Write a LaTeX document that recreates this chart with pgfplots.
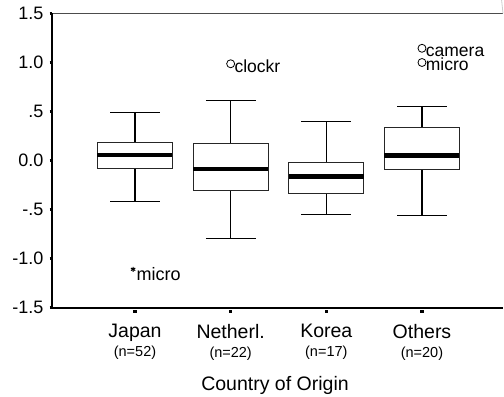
\documentclass[border=0pt]{standalone}
\usepackage{pgfplots}
\pgfplotsset{compat=1.18}
\usepgfplotslibrary{statistics}
\usepackage{fontspec}
\setmainfont{Liberation Sans}

\begin{document}
\begin{tikzpicture}[x=1bp,y=1bp]
\useasboundingbox (0,0) rectangle (504,396);
\begin{axis}[
  at={(52bp,88.5bp)}, anchor=south west,
  scale only axis, width=451bp, height=294bp,
  xmin=0.1324, xmax=4.847, ymin=-1.5, ymax=1.5,
  axis line style={draw=none},
  clip=false,
  tick align=outside,
  xtick pos=bottom, ytick pos=left,
  major tick length=2.5bp,
  ytick={-1.5,-1,-0.5,0,0.5,1,1.5},
  yticklabels={-1.5,-1.0,-.5,0.0,.5,1.0,1.5},
  ytick style={black, line width=3bp},
  yticklabel style={font=\fontsize{18bp}{20bp}\selectfont, anchor=east, inner sep=0pt, xshift=-6bp},
  xtick={1,2,3,4},
  xticklabels={
    {Japan\\{\fontsize{14.5bp}{16bp}\selectfont (n=52)}},
    {Netherl.\\{\fontsize{14.5bp}{16bp}\selectfont (n=22)}},
    {Korea\\{\fontsize{14.5bp}{16bp}\selectfont (n=17)}},
    {Others\\{\fontsize{14.5bp}{16bp}\selectfont (n=20)}}},
  xtick style={black, line width=3.5bp, yshift=-2.5bp},
  xticklabel style={font=\fontsize{19.5bp}{19bp}\selectfont, align=center, anchor=north, inner sep=0pt, yshift=-14bp},
  xlabel={Country of Origin},
  xlabel style={font=\fontsize{19.5bp}{22bp}\selectfont, at={(axis description cs:0.5,0)}, anchor=base, yshift=-82.5bp, xshift=-2.5bp},
  boxplot/draw direction=y,
  boxplot/every box/.style={draw=black!85, line width=0.9bp},
  boxplot/every whisker/.style={black, line width=1.3bp},
  boxplot/every median/.style={black, line width=4.3bp},
]

% frame: heavy left and bottom lines, light top line
\draw[black!70, line width=0.8bp] (rel axis cs:0,1) -- (rel axis cs:1,1);
\draw[black!20, line width=0.8bp] (rel axis cs:1,1) -- ++(0,-27bp);
\draw[black, line width=2bp] (rel axis cs:0,0) -- (rel axis cs:0,1);
\draw[black, line width=2bp] (rel axis cs:0,0) -- (rel axis cs:1,0);

% Japan
\addplot[black, solid, boxplot prepared={draw position=1,
  median=0.054, upper quartile=0.184, lower quartile=-0.085,
  upper whisker=0.487, lower whisker=-0.42,
  box extend=0.784, whisker extend=0.52}] coordinates {};
% Netherlands
\addplot[black, solid, boxplot prepared={draw position=2,
  median=-0.089, upper quartile=0.177, lower quartile=-0.303,
  upper whisker=0.615, lower whisker=-0.796,
  box extend=0.784, whisker extend=0.52}] coordinates {};
% Korea
\addplot[black, solid, boxplot prepared={draw position=3,
  median=-0.163, upper quartile=-0.02, lower quartile=-0.334,
  upper whisker=0.398, lower whisker=-0.548,
  box extend=0.784, whisker extend=0.52}] coordinates {};
% Others
\addplot[black, solid, boxplot prepared={draw position=4,
  median=0.051, upper quartile=0.337, lower quartile=-0.089,
  upper whisker=0.554, lower whisker=-0.561,
  box extend=0.784, whisker extend=0.52}] coordinates {};

% outliers
\addplot[only marks, mark=o, mark size=4bp, mark options={black, line width=0.8bp},
  nodes near coords, point meta=explicit symbolic,
  every node near coord/.append style={anchor=base west, inner sep=0pt,
    text depth=0pt, xshift=3.5bp, yshift=-8.5bp, font=\fontsize{17.5bp}{20bp}\selectfont}]
  table[meta=label]{
x y label
2 0.987 clockr
4 1.145 camera
4 1.0 micro
};
% extreme value
\addplot[only marks, mark=asterisk, mark size=2.5bp, mark options={black, line width=1bp},
  nodes near coords, point meta=explicit symbolic,
  every node near coord/.append style={anchor=base west, inner sep=0pt,
    xshift=3bp, yshift=-11bp, font=\fontsize{18bp}{20bp}\selectfont}]
  table[meta=label]{
x y label
0.98 -1.11 micro
};
\end{axis}
\end{tikzpicture}
\end{document}
